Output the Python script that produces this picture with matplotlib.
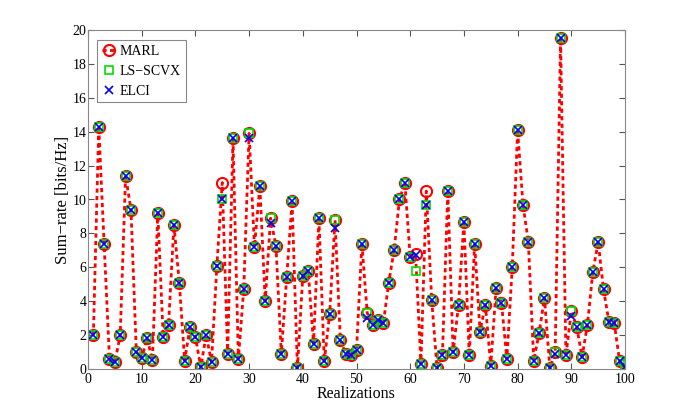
import matplotlib
matplotlib.use('Agg')
import matplotlib.pyplot as plt

# realization index and sum-rate values
realizacion = list(range(1, 101))

marl = [2.0, 14.3, 7.4, 0.6, 0.4, 2.0, 11.4, 9.4, 1.0, 0.65,
        1.8, 0.55, 9.2, 1.9, 2.6, 8.5, 5.1, 0.5, 2.5, 1.9,
        0.1, 2.0, 0.4, 6.1, 11.0, 0.9, 13.6, 0.6, 4.7, 13.9,
        7.2, 10.8, 4.0, 8.9, 7.25, 0.9, 5.4, 9.9, 0.05, 5.5,
        5.8, 1.5, 8.9, 0.45, 3.25, 8.8, 1.7, 0.9, 0.8, 1.1,
        7.4, 3.3, 2.6, 2.9, 2.7, 5.1, 7.0, 10.0, 11.0, 6.6,
        6.8, 0.3, 10.5, 4.1, 0.05, 0.8, 10.5, 1.0, 3.8, 8.7,
        0.8, 7.4, 2.2, 3.8, 0.2, 4.8, 3.9, 0.6, 6.0, 14.1,
        9.7, 7.5, 0.5, 2.1, 4.2, 0.05, 1.0, 19.5, 0.8, 3.4,
        2.5, 0.7, 2.6, 5.7, 7.5, 4.7, 2.8, 2.7, 0.45, 0.3]

ls_scvx = [2.0, 14.3, 7.4, 0.6, 0.4, 2.0, 11.4, 9.4, 1.0, 0.65,
           1.8, 0.55, 9.2, 1.9, 2.6, 8.5, 5.1, 0.5, 2.5, 1.9,
           0.1, 2.0, 0.4, 6.1, 10.0, 0.9, 13.6, 0.6, 4.7, 13.9,
           7.2, 10.8, 4.0, 8.9, 7.25, 0.9, 5.4, 9.9, 0.05, 5.5,
           5.8, 1.5, 8.9, 0.45, 3.25, 8.8, 1.7, 0.9, 0.8, 1.1,
           7.4, 3.3, 2.6, 2.9, 2.7, 5.1, 7.0, 10.0, 11.0, 6.6,
           5.8, 0.3, 9.7, 4.1, 0.05, 0.8, 10.5, 1.0, 3.8, 8.7,
           0.8, 7.4, 2.2, 3.8, 0.2, 4.8, 3.9, 0.6, 6.0, 14.1,
           9.7, 7.5, 0.5, 2.1, 4.2, 0.05, 1.0, 19.5, 0.8, 3.4,
           2.5, 0.7, 2.6, 5.7, 7.5, 4.7, 2.8, 2.7, 0.45, 0.3]

elci = [2.0, 14.3, 7.4, 0.6, 0.4, 2.0, 11.4, 9.4, 1.0, 0.65,
        1.8, 0.55, 9.2, 1.9, 2.6, 8.5, 5.1, 0.5, 2.5, 1.9,
        0.1, 2.0, 0.4, 6.1, 10.0, 0.9, 13.6, 0.6, 4.7, 13.6,
        7.2, 10.8, 4.0, 8.6, 7.25, 0.9, 5.4, 9.9, 0.05, 5.5,
        5.8, 1.5, 8.9, 0.45, 3.25, 8.3, 1.7, 0.9, 0.8, 1.1,
        7.4, 3.0, 2.6, 2.9, 2.7, 5.1, 7.0, 10.0, 11.0, 6.6,
        6.7, 0.3, 9.7, 4.1, 0.05, 0.8, 10.5, 1.0, 3.8, 8.7,
        0.8, 7.4, 2.2, 3.8, 0.2, 4.8, 3.9, 0.6, 6.0, 14.1,
        9.7, 7.5, 0.5, 2.1, 4.2, 0.05, 0.9, 19.5, 0.8, 3.1,
        2.5, 0.7, 2.6, 5.7, 7.5, 4.7, 2.8, 2.7, 0.45, 0.1]


def main():
    plt.rcParams['font.family'] = ['Liberation Serif', 'DejaVu Serif']

    fig = plt.figure(figsize=(6.85, 4.15), dpi=100)
    ax = fig.add_axes([88 / 685, 1 - 369 / 415, 537 / 685, 339 / 415])

    ax.plot(realizacion, marl, color='#ff0000', linestyle=(0, (1.5, 1.2)),
            linewidth=2, marker='o', markersize=8, markerfacecolor='none',
            markeredgecolor='#ff0000', markeredgewidth=1.5, label='MARL')
    ax.plot(realizacion, ls_scvx, linestyle='none', marker='s', markersize=5.5,
            markerfacecolor='none', markeredgecolor='#00e000',
            markeredgewidth=1.2, label='LS\u2212SCVX')
    ax.plot(realizacion, elci, linestyle='none', marker='x', markersize=5.5,
            color='#0000ff', markeredgewidth=1.2, label='ELCI')

    ax.set_xlim(0, 100)
    ax.set_ylim(0, 20)
    ax.set_xticks(range(0, 101, 10))
    ax.set_yticks(range(0, 21, 2))
    ax.tick_params(direction='in', top=True, right=True, length=4,
                   labelsize=10, color='#555555')
    ax.tick_params(axis='y', pad=1)
    ax.tick_params(axis='x', pad=3)
    for s in ax.spines.values():
        s.set_color('#888888')
        s.set_linewidth(0.8)

    ax.set_xlabel('Realizations', fontsize=11.5, labelpad=0)
    ax.set_ylabel('Sum\u2212rate [bits/Hz]', fontsize=12, labelpad=1)

    leg = ax.legend(loc='upper left', bbox_to_anchor=(0.015, 0.975),
                    fontsize=10, fancybox=False, framealpha=1,
                    edgecolor='#888888', handlelength=1.0,
                    handletextpad=0.25, borderpad=0.35, labelspacing=0.5,
                    borderaxespad=0.1)
    leg.get_frame().set_linewidth(0.8)

    fig.savefig('out.png', dpi=100)


if __name__ == '__main__':
    main()
